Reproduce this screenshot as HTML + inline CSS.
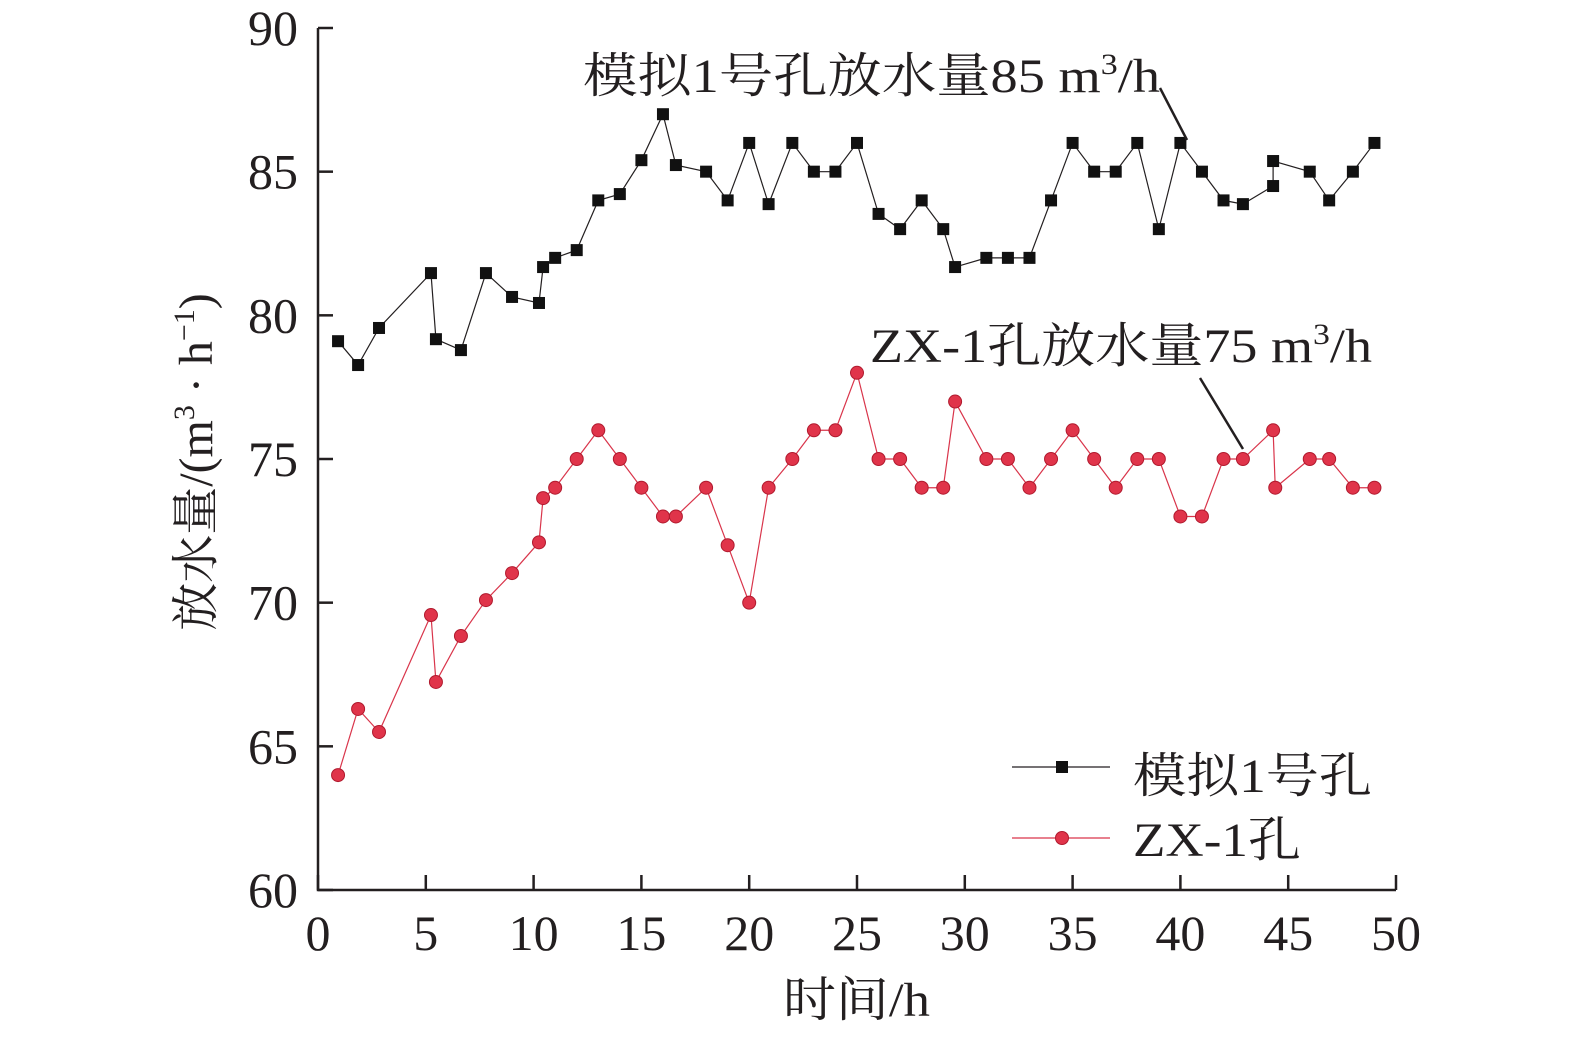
<!DOCTYPE html>
<html><head><meta charset="utf-8"><style>
html,body{margin:0;padding:0;background:#fff;width:1575px;height:1039px;overflow:hidden}
text{font-family:"Liberation Serif","Noto Serif CJK SC",serif;fill:#231f20}
</style></head><body>
<svg id="chart" width="1575" height="1039" xmlns="http://www.w3.org/2000/svg"></svg>
<script>
const xTicks=[0,5,10,15,20,25,30,35,40,45,50];
const yTicks=[60,65,70,75,80,85,90];
const simX=[0.93,1.86,2.83,5.24,5.47,6.63,7.79,9.0,10.25,10.44,11,12,13,14,15,16,16.6,18,19,20,20.9,22,23,24,25,26,27,28,29,29.55,31,32,33,34,35,36,37,38,39,40,41,42,42.9,44.3,44.3,46,46.9,48,49];
const simY=[79.1,78.27,79.56,81.47,79.17,78.79,81.47,80.64,80.43,81.68,82,82.27,84,84.22,85.4,87,85.23,85,84,86,83.87,86,85,85,86,83.53,83,84,83,81.68,82,82,82,84,86,85,85,86,83,86,85,84,83.87,84.5,85.37,85,84,85,86];
const zxX=[0.93,1.86,2.83,5.24,5.47,6.63,7.79,9.0,10.25,10.44,11,12,13,14,15,16,16.6,18,19,20,20.9,22,23,24,25,26,27,28,29,29.55,31,32,33,34,35,36,37,38,39,40,41,42,42.9,44.3,44.4,46,46.9,48,49];
const zxY=[64,66.3,65.5,69.57,67.24,68.84,70.09,71.03,72.1,73.64,74,75,76,75,74,73,73,74,72,70,74,75,76,76,78,75,75,74,74,77,75,75,74,75,76,75,74,75,75,73,73,75,75,76,74,75,75,74,74];

const NS="http://www.w3.org/2000/svg";
const svg=document.getElementById('chart');
const X0=318,X1=1396,Y0=890,Y1=28;
const sx=v=>X0+(v-0)/50*(X1-X0);
const sy=v=>Y0-(v-60)/30*(Y0-Y1);
function mk(tag,attrs,parent){const e=document.createElementNS(NS,tag);for(const k in attrs)e.setAttribute(k,attrs[k]);(parent||svg).appendChild(e);return e;}

let ax=mk('path',{d:`M${X0},${Y1} L${X0},${Y0} L${X1},${Y0}`,fill:'none',stroke:'#231f20','stroke-width':2.5});


xTicks.forEach(t=>{
  const l=mk('line',{x1:sx(t),x2:sx(t),y1:Y0,y2:Y0-15,stroke:'#231f20','stroke-width':2.5});
  
  
  const tx=mk('text',{x:sx(t),y:950,'text-anchor':'middle','font-size':50});
  tx.textContent=t;
  
  
});
yTicks.forEach(t=>{
  const l=mk('line',{x1:X0,x2:X0+15,y1:sy(t),y2:sy(t),stroke:'#231f20','stroke-width':2.5});
  
  
  const tx=mk('text',{x:298,y:sy(t)+17,'text-anchor':'end','font-size':50});
  tx.textContent=t;
  
  
});
let xt=mk('text',{x:783,y:1016,'font-size':48,textLength:147,lengthAdjust:'spacingAndGlyphs'});
xt.textContent='时间/h';


let yt=mk('text',{x:0,y:0,'text-anchor':'middle','font-size':48,transform:'translate(212,462) rotate(-90)'});
yt.innerHTML='放水量/(m<tspan font-size="30" dy="-18">3</tspan><tspan dy="18"> · h</tspan><tspan font-size="30" dy="-18">−1</tspan><tspan dy="18">)</tspan>';



function series(xs,ys,color,square,name){
  const g=mk('g',{});
  
  
  mk('polyline',{points:xs.map((x,i)=>sx(x)+','+sy(ys[i])).join(' '),fill:'none',stroke:color,'stroke-width':1.2},g);
  xs.forEach((x,i)=>{
    let m;
    if(square) m=mk('rect',{x:sx(x)-6,y:sy(ys[i])-6,width:12,height:12,fill:'#111'},g);
    else m=mk('circle',{cx:sx(x),cy:sy(ys[i]),r:6.5,fill:'#e0344a',stroke:'#b01a2e','stroke-width':1},g);
    
    
  });
}
series(simX,simY,'#231f20',true,'series-sim-hole-1');
series(zxX,zxY,'#d9354b',false,'series-zx-1');

let a1=mk('text',{x:583,y:92,'font-size':48,textLength:577,lengthAdjust:'spacingAndGlyphs'});
a1.innerHTML='模拟1号孔放水量85 m<tspan font-size="30" dy="-18">3</tspan><tspan dy="18">/h</tspan>';


let l1=mk('line',{x1:1160,y1:88,x2:1187,y2:140,stroke:'#231f20','stroke-width':2.5});


let a2=mk('text',{x:870,y:362,'font-size':48,textLength:502,lengthAdjust:'spacingAndGlyphs'});
a2.innerHTML='ZX-1孔放水量75 m<tspan font-size="30" dy="-18">3</tspan><tspan dy="18">/h</tspan>';


let l2=mk('line',{x1:1200,y1:378,x2:1243,y2:449,stroke:'#231f20','stroke-width':2.5});



const lg=mk('g',{});


mk('line',{x1:1012,x2:1110,y1:767,y2:767,stroke:'#231f20','stroke-width':1.2},lg);
mk('rect',{x:1056,y:761,width:12,height:12,fill:'#111'},lg);
let t1=mk('text',{x:1133,y:792,'font-size':48,textLength:239,lengthAdjust:'spacingAndGlyphs'},lg);t1.textContent='模拟1号孔';


mk('line',{x1:1012,x2:1110,y1:838,y2:838,stroke:'#d9354b','stroke-width':1.2},lg);
mk('circle',{cx:1062,cy:838,r:6.5,fill:'#e0344a',stroke:'#b01a2e','stroke-width':1},lg);
let t2=mk('text',{x:1133,y:856,'font-size':48,textLength:168,lengthAdjust:'spacingAndGlyphs'},lg);t2.textContent='ZX-1孔';


</script>
</body></html>
